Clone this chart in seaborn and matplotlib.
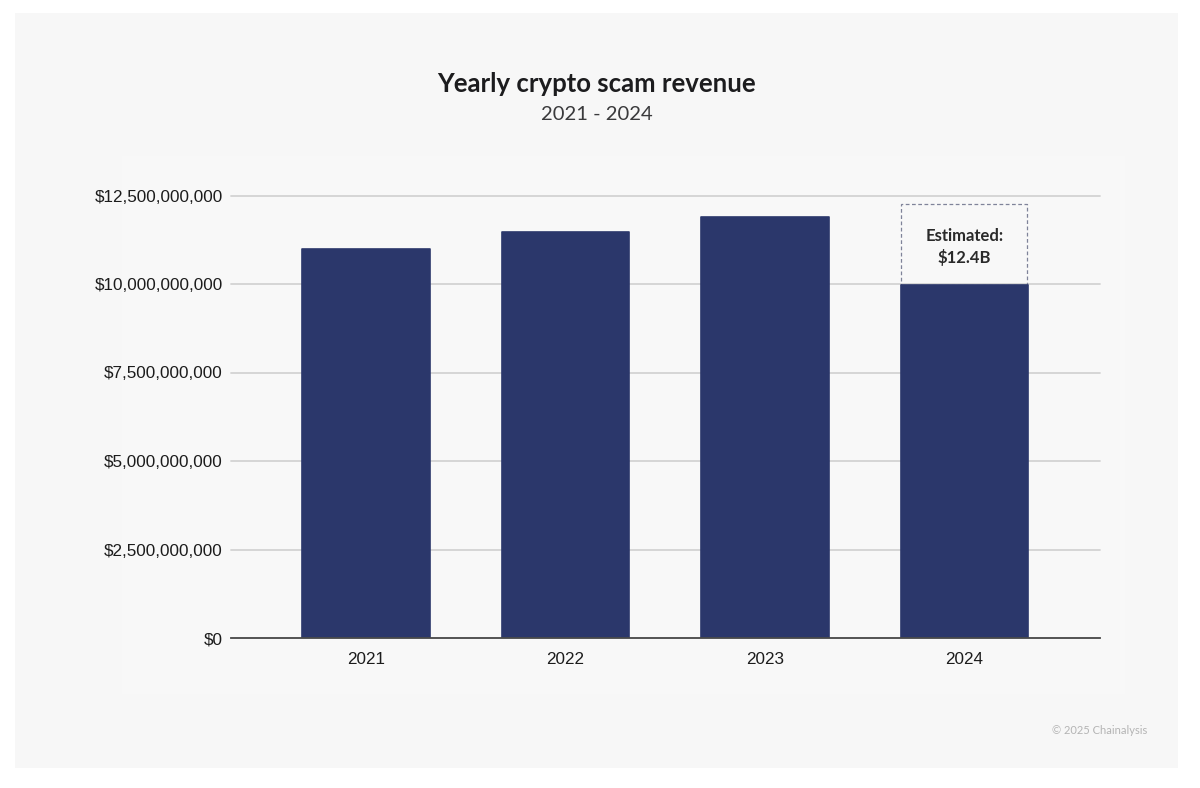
import matplotlib
matplotlib.use('Agg')
import matplotlib.pyplot as plt
import pandas as pd
import seaborn as sns
from matplotlib.patches import Rectangle
from matplotlib.ticker import FuncFormatter

# values
years = ['2021', '2022', '2023', '2024']
revenue = [10.99e9, 11.48e9, 11.89e9, 9.98e9]
estimate_2024 = 12.26e9
y_ticks = [0, 2.5e9, 5e9, 7.5e9, 10e9, 12.5e9]

W, H = 1200, 788
panel_color = '#f7f7f7'
inner_color = '#f8f8f8'
bar_color = '#2b376b'

sns.set_theme(style='white')
plt.rcParams['font.family'] = ['Liberation Sans', 'DejaVu Sans']

df = pd.DataFrame({'year': years, 'revenue': revenue})

fig = plt.figure(figsize=(W / 100, H / 100), dpi=100, facecolor='white')

# background panels, kept behind the axes
fig.add_artist(Rectangle((15 / W, 1 - 768 / H), 1163 / W, 755 / H,
                         transform=fig.transFigure, color=panel_color, lw=0, zorder=-2))
fig.add_artist(Rectangle((122 / W, 1 - 694 / H), 1003 / W, 538 / H,
                         transform=fig.transFigure, color=inner_color, lw=0, zorder=-1))

ax = fig.add_axes([231 / W, 1 - 638 / H, 869 / W, 442.5 / H])
ax.patch.set_alpha(0)

sns.barplot(data=df, x='year', y='revenue', color=bar_color, saturation=1,
            width=0.64, ax=ax, zorder=3)
for bar in ax.patches:
    bar.set_edgecolor(bar_color)
    bar.set_linewidth(1.2)
    bar.set_joinstyle('round')

ax.set_xlim(-0.676, 3.680)
ax.set_ylim(0, 12.5e9)
ax.set_yticks(y_ticks)
ax.yaxis.set_major_formatter(FuncFormatter(lambda v, p: f'${v:,.0f}'))
ax.set_xlabel('')
ax.set_ylabel('')
ax.grid(axis='y', color='#d3d3d3', lw=1.3, zorder=0)
ax.set_axisbelow(True)
for gl in ax.get_ygridlines():
    gl.set_clip_on(False)
ax.tick_params(axis='both', length=0, labelsize=12.3, labelcolor='#1c1c1c')
ax.tick_params(axis='y', pad=6)
ax.tick_params(axis='x', pad=10)

sns.despine(ax=ax, left=True, right=True, top=True)
ax.spines['bottom'].set_color('#4a4a4a')
ax.spines['bottom'].set_linewidth(1.3)
ax.spines['bottom'].set_zorder(5)

# dashed box for the 2024 estimate
ax.add_patch(Rectangle((3 - 0.318, revenue[3]), 0.63, estimate_2024 - revenue[3],
                       fill=False, edgecolor='#7f8399', lw=0.9, ls=(0, (3, 2)),
                       zorder=2, clip_on=False))
ax.text(3, 11.04e9, 'Estimated:\n$12.4B', ha='center', va='center', family='Lato',
        fontweight='bold', fontsize=12, color='#2a2a2a', linespacing=1.32, zorder=6)

fig.text(596.5 / W, 1 - 84 / H, 'Yearly crypto scam revenue', ha='center', va='center',
         family='Lato', fontweight='bold', fontsize=18.5, color='#1c1c1e')
fig.text(597 / W, 1 - 114 / H, '2021 - 2024', ha='center', va='center',
         family='Lato', fontsize=14.6, color='#3a3a3c')
fig.text(1147 / W, 1 - 730 / H, '© 2025 Chainalysis', ha='right', va='center',
         family='Lato', fontsize=8, color='#b4b4b4')

fig.savefig('out.png', dpi=100, facecolor='white')
